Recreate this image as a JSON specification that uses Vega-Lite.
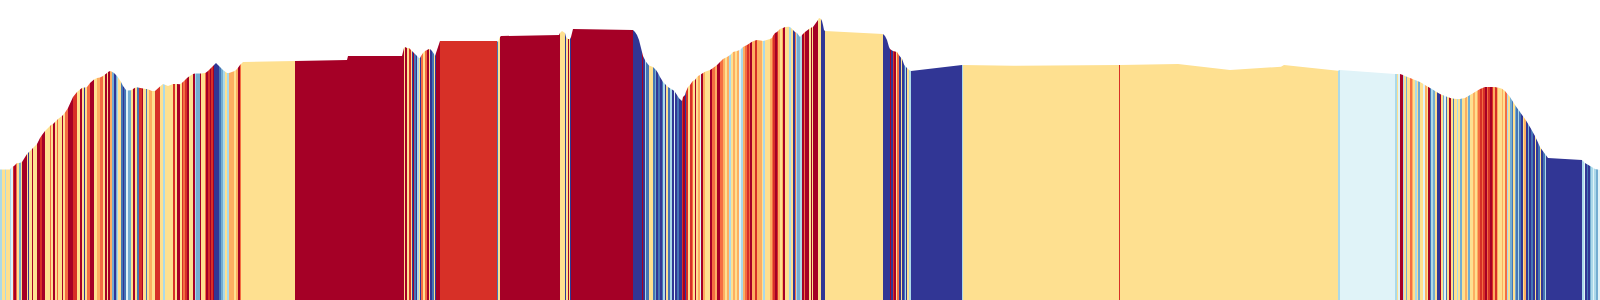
{
"$schema":"https://vega.github.io/schema/vega-lite/v6.json",
"width":1600,"height":300,
"autosize":{"type":"fit","contains":"padding"},
"padding":0,
"background":"white",
"config":{"view":{"stroke":null}},
"data":{"values":[
{"d":0,"d2":2,"e":130.5,"c":6},
{"d":2,"d2":5,"e":130.5,"c":4},
{"d":5,"d2":6,"e":130.5,"c":6},
{"d":6,"d2":10,"e":130.5,"c":4},
{"d":10,"d2":11,"e":130.5,"c":6},
{"d":11,"d2":13,"e":132,"c":5},
{"d":13,"d2":14,"e":133.5,"c":1},
{"d":14,"d2":16,"e":134,"c":0},
{"d":16,"d2":17,"e":136,"c":2},
{"d":17,"d2":19,"e":137,"c":4},
{"d":19,"d2":21,"e":137,"c":7},
{"d":21,"d2":22,"e":137.5,"c":4},
{"d":22,"d2":27,"e":138,"c":0},
{"d":27,"d2":28,"e":146,"c":4},
{"d":28,"d2":29,"e":147,"c":9},
{"d":29,"d2":32,"e":148,"c":4},
{"d":32,"d2":33,"e":151,"c":0},
{"d":33,"d2":37,"e":152,"c":4},
{"d":37,"d2":40,"e":156,"c":0},
{"d":40,"d2":42,"e":162,"c":1},
{"d":42,"d2":45,"e":165,"c":0},
{"d":45,"d2":50,"e":169,"c":4},
{"d":50,"d2":51,"e":174,"c":2},
{"d":51,"d2":53,"e":175,"c":4},
{"d":53,"d2":55,"e":176,"c":0},
{"d":55,"d2":57,"e":178,"c":4},
{"d":57,"d2":58,"e":180,"c":2},
{"d":58,"d2":62,"e":181,"c":4},
{"d":62,"d2":63,"e":184,"c":0},
{"d":63,"d2":65,"e":185,"c":4},
{"d":65,"d2":68,"e":187.5,"c":2},
{"d":68,"d2":73,"e":192,"c":0},
{"d":73,"d2":77,"e":203,"c":1},
{"d":77,"d2":80,"e":208,"c":4},
{"d":80,"d2":82,"e":210.5,"c":0},
{"d":82,"d2":84,"e":212,"c":4},
{"d":84,"d2":85,"e":212.4,"c":9},
{"d":85,"d2":87,"e":212.6,"c":4},
{"d":87,"d2":90,"e":213,"c":2},
{"d":90,"d2":94,"e":217,"c":0},
{"d":94,"d2":97,"e":220.5,"c":4},
{"d":97,"d2":100,"e":222,"c":3},
{"d":100,"d2":103,"e":222.6,"c":2},
{"d":103,"d2":105,"e":224,"c":4},
{"d":105,"d2":107,"e":225.4,"c":0},
{"d":107,"d2":108,"e":227,"c":4},
{"d":108,"d2":110,"e":228,"c":0},
{"d":110,"d2":112,"e":229,"c":3},
{"d":112,"d2":114,"e":228.3,"c":7},
{"d":114,"d2":116,"e":227,"c":9},
{"d":116,"d2":117,"e":225,"c":7},
{"d":117,"d2":118,"e":224,"c":6},
{"d":118,"d2":121,"e":222.7,"c":4},
{"d":121,"d2":123,"e":218,"c":8},
{"d":123,"d2":124,"e":214,"c":9},
{"d":124,"d2":126,"e":212.7,"c":8},
{"d":126,"d2":128,"e":210,"c":5},
{"d":128,"d2":131,"e":209.5,"c":7},
{"d":131,"d2":133,"e":209.7,"c":4},
{"d":133,"d2":135,"e":211,"c":0},
{"d":135,"d2":137,"e":212.3,"c":4},
{"d":137,"d2":139,"e":212.8,"c":8},
{"d":139,"d2":142,"e":212.2,"c":1},
{"d":142,"d2":143,"e":211.7,"c":0},
{"d":143,"d2":146,"e":211.6,"c":4},
{"d":146,"d2":147,"e":211.1,"c":8},
{"d":147,"d2":149,"e":211,"c":4},
{"d":149,"d2":152,"e":210.2,"c":3},
{"d":152,"d2":155,"e":209,"c":4},
{"d":155,"d2":160,"e":209,"c":1},
{"d":160,"d2":163,"e":213.6,"c":4},
{"d":163,"d2":165,"e":216,"c":6},
{"d":165,"d2":168,"e":215.2,"c":4},
{"d":168,"d2":173,"e":214,"c":4},
{"d":173,"d2":175,"e":216,"c":1},
{"d":175,"d2":177,"e":216,"c":4},
{"d":177,"d2":180,"e":216,"c":0},
{"d":180,"d2":182,"e":215.7,"c":4},
{"d":182,"d2":183,"e":217.2,"c":1},
{"d":183,"d2":185,"e":218,"c":2},
{"d":185,"d2":187,"e":220,"c":1},
{"d":187,"d2":189,"e":222,"c":0},
{"d":189,"d2":193,"e":223.6,"c":4},
{"d":193,"d2":195,"e":226,"c":0},
{"d":195,"d2":196,"e":226.4,"c":6},
{"d":196,"d2":200,"e":226.6,"c":7},
{"d":200,"d2":201,"e":226.6,"c":0},
{"d":201,"d2":205,"e":226.4,"c":4},
{"d":205,"d2":206,"e":227,"c":2},
{"d":206,"d2":208,"e":227.5,"c":0},
{"d":208,"d2":210,"e":229,"c":1},
{"d":210,"d2":211,"e":231,"c":0},
{"d":211,"d2":213,"e":232,"c":1},
{"d":213,"d2":214,"e":234,"c":0},
{"d":214,"d2":216,"e":235,"c":9},
{"d":216,"d2":219,"e":237,"c":9},
{"d":219,"d2":221,"e":234,"c":8},
{"d":221,"d2":223,"e":232,"c":7},
{"d":223,"d2":225,"e":230,"c":6},
{"d":225,"d2":227,"e":228.5,"c":4},
{"d":227,"d2":229,"e":227,"c":6},
{"d":229,"d2":234,"e":227,"c":3},
{"d":234,"d2":236,"e":228.7,"c":4},
{"d":236,"d2":238,"e":230,"c":3},
{"d":238,"d2":240,"e":232.3,"c":0},
{"d":240,"d2":241,"e":235,"c":2},
{"d":241,"d2":243,"e":236,"c":4},
{"d":243,"d2":295,"e":238,"c":4},
{"d":295,"d2":347,"e":239,"c":0},
{"d":347,"d2":348,"e":240,"c":0},
{"d":348,"d2":402,"e":244,"c":0},
{"d":402,"d2":404,"e":244,"c":0},
{"d":404,"d2":405,"e":252,"c":4},
{"d":405,"d2":407,"e":253,"c":0},
{"d":407,"d2":409,"e":252,"c":4},
{"d":409,"d2":411,"e":252,"c":1},
{"d":411,"d2":412,"e":250,"c":4},
{"d":412,"d2":413,"e":249,"c":9},
{"d":413,"d2":414,"e":248,"c":0},
{"d":414,"d2":416,"e":247,"c":8},
{"d":416,"d2":417,"e":245,"c":9},
{"d":417,"d2":419,"e":244,"c":6},
{"d":419,"d2":420,"e":242,"c":4},
{"d":420,"d2":421,"e":242,"c":9},
{"d":421,"d2":423,"e":244,"c":2},
{"d":423,"d2":425,"e":247,"c":4},
{"d":425,"d2":427,"e":249,"c":2},
{"d":427,"d2":429,"e":250,"c":0},
{"d":429,"d2":430,"e":251,"c":4},
{"d":430,"d2":432,"e":251,"c":9},
{"d":432,"d2":434,"e":249,"c":8},
{"d":434,"d2":435,"e":246,"c":4},
{"d":435,"d2":436,"e":244,"c":9},
{"d":436,"d2":440,"e":247,"c":0},
{"d":440,"d2":497,"e":259,"c":1},
{"d":497,"d2":498,"e":259,"c":8},
{"d":498,"d2":500,"e":258,"c":4},
{"d":500,"d2":501,"e":263,"c":0},
{"d":501,"d2":559,"e":264,"c":0},
{"d":559,"d2":560,"e":265,"c":0},
{"d":560,"d2":562,"e":267,"c":4},
{"d":562,"d2":565,"e":269,"c":4},
{"d":565,"d2":566,"e":267,"c":9},
{"d":566,"d2":568,"e":263,"c":4},
{"d":568,"d2":569,"e":261,"c":0},
{"d":569,"d2":570,"e":261,"c":4},
{"d":570,"d2":571,"e":261,"c":9},
{"d":571,"d2":573,"e":263,"c":0},
{"d":573,"d2":633,"e":271,"c":0},
{"d":633,"d2":635,"e":270,"c":9},
{"d":635,"d2":637,"e":268,"c":9},
{"d":637,"d2":639,"e":265,"c":9},
{"d":639,"d2":641,"e":260,"c":9},
{"d":641,"d2":642,"e":252,"c":9},
{"d":642,"d2":643,"e":248,"c":0},
{"d":643,"d2":645,"e":244,"c":9},
{"d":645,"d2":646,"e":240,"c":6},
{"d":646,"d2":649,"e":238.3,"c":8},
{"d":649,"d2":653,"e":234.5,"c":4},
{"d":653,"d2":655,"e":233,"c":8},
{"d":655,"d2":656,"e":231,"c":7},
{"d":656,"d2":658,"e":230,"c":9},
{"d":658,"d2":660,"e":227,"c":8},
{"d":660,"d2":662,"e":223,"c":9},
{"d":662,"d2":663,"e":219.7,"c":8},
{"d":663,"d2":665,"e":218,"c":6},
{"d":665,"d2":666,"e":216,"c":9},
{"d":666,"d2":668,"e":215,"c":4},
{"d":668,"d2":670,"e":213,"c":8},
{"d":670,"d2":672,"e":211.7,"c":6},
{"d":672,"d2":674,"e":210.5,"c":9},
{"d":674,"d2":675,"e":209.3,"c":5},
{"d":675,"d2":677,"e":208,"c":9},
{"d":677,"d2":679,"e":205,"c":8},
{"d":679,"d2":682,"e":201.7,"c":9},
{"d":682,"d2":683,"e":199,"c":1},
{"d":683,"d2":685,"e":203,"c":0},
{"d":685,"d2":686,"e":205,"c":9},
{"d":686,"d2":688,"e":208.5,"c":1},
{"d":688,"d2":690,"e":213,"c":4},
{"d":690,"d2":692,"e":215,"c":1},
{"d":692,"d2":693,"e":218,"c":2},
{"d":693,"d2":695,"e":219.3,"c":4},
{"d":695,"d2":696,"e":220,"c":0},
{"d":696,"d2":698,"e":221.5,"c":4},
{"d":698,"d2":700,"e":224,"c":3},
{"d":700,"d2":701,"e":225,"c":5},
{"d":701,"d2":703,"e":225.7,"c":0},
{"d":703,"d2":705,"e":227,"c":3},
{"d":705,"d2":710,"e":228.3,"c":4},
{"d":710,"d2":712,"e":230,"c":0},
{"d":712,"d2":715,"e":231.3,"c":2},
{"d":715,"d2":717,"e":233.5,"c":3},
{"d":717,"d2":720,"e":235,"c":0},
{"d":720,"d2":723,"e":238,"c":2},
{"d":723,"d2":725,"e":241,"c":3},
{"d":725,"d2":727,"e":242,"c":4},
{"d":727,"d2":729,"e":243,"c":3},
{"d":729,"d2":731,"e":244.3,"c":6},
{"d":731,"d2":733,"e":245.7,"c":4},
{"d":733,"d2":735,"e":248,"c":3},
{"d":735,"d2":737,"e":248.5,"c":4},
{"d":737,"d2":739,"e":249,"c":3},
{"d":739,"d2":741,"e":249.7,"c":5},
{"d":741,"d2":743,"e":251,"c":6},
{"d":743,"d2":745,"e":253,"c":3},
{"d":745,"d2":747,"e":254,"c":2},
{"d":747,"d2":749,"e":255,"c":1},
{"d":749,"d2":750,"e":256.3,"c":2},
{"d":750,"d2":752,"e":257,"c":0},
{"d":752,"d2":755,"e":258.3,"c":3},
{"d":755,"d2":757,"e":259.5,"c":1},
{"d":757,"d2":762,"e":260,"c":3},
{"d":762,"d2":763,"e":259.3,"c":4},
{"d":763,"d2":765,"e":259,"c":6},
{"d":765,"d2":770,"e":259.5,"c":4},
{"d":770,"d2":772,"e":261,"c":3},
{"d":772,"d2":773,"e":262,"c":2},
{"d":773,"d2":775,"e":264.3,"c":1},
{"d":775,"d2":777,"e":267,"c":0},
{"d":777,"d2":778,"e":268,"c":1},
{"d":778,"d2":780,"e":269,"c":3},
{"d":780,"d2":782,"e":271,"c":4},
{"d":782,"d2":783,"e":271.7,"c":3},
{"d":783,"d2":785,"e":272,"c":0},
{"d":785,"d2":789,"e":273,"c":4},
{"d":789,"d2":791,"e":273.3,"c":6},
{"d":791,"d2":793,"e":272.3,"c":4},
{"d":793,"d2":795,"e":270,"c":9},
{"d":795,"d2":796,"e":268,"c":2},
{"d":796,"d2":797,"e":267.5,"c":6},
{"d":797,"d2":800,"e":267,"c":7},
{"d":800,"d2":802,"e":263,"c":6},
{"d":802,"d2":804,"e":265,"c":0},
{"d":804,"d2":805,"e":267,"c":2},
{"d":805,"d2":809,"e":268,"c":0},
{"d":809,"d2":811,"e":271,"c":4},
{"d":811,"d2":812,"e":272.3,"c":0},
{"d":812,"d2":813,"e":272.7,"c":4},
{"d":813,"d2":818,"e":273,"c":0},
{"d":818,"d2":819,"e":280,"c":4},
{"d":819,"d2":821,"e":282,"c":4},
{"d":821,"d2":822,"e":281,"c":9},
{"d":822,"d2":823,"e":279,"c":9},
{"d":823,"d2":824,"e":275,"c":9},
{"d":824,"d2":825,"e":270,"c":9},
{"d":825,"d2":883,"e":269,"c":4},
{"d":883,"d2":885,"e":266,"c":9},
{"d":885,"d2":887,"e":264,"c":9},
{"d":887,"d2":889,"e":260,"c":9},
{"d":889,"d2":890,"e":253,"c":9},
{"d":890,"d2":891,"e":251,"c":0},
{"d":891,"d2":893,"e":250.3,"c":9},
{"d":893,"d2":894,"e":249,"c":1},
{"d":894,"d2":896,"e":248.8,"c":0},
{"d":896,"d2":897,"e":248.3,"c":4},
{"d":897,"d2":899,"e":248,"c":2},
{"d":899,"d2":901,"e":244.7,"c":9},
{"d":901,"d2":902,"e":242.3,"c":4},
{"d":902,"d2":904,"e":241.3,"c":9},
{"d":904,"d2":905,"e":235.5,"c":8},
{"d":905,"d2":906,"e":234,"c":6},
{"d":906,"d2":907,"e":233,"c":9},
{"d":907,"d2":909,"e":232,"c":4},
{"d":909,"d2":911,"e":230,"c":6},
{"d":911,"d2":962,"e":229,"c":9},
{"d":962,"d2":963,"e":235,"c":6},
{"d":963,"d2":1013,"e":235,"c":4},
{"d":1013,"d2":1119,"e":234.3,"c":4},
{"d":1119,"d2":1120,"e":235,"c":1},
{"d":1120,"d2":1178,"e":235,"c":4},
{"d":1178,"d2":1230,"e":236,"c":4},
{"d":1230,"d2":1281,"e":230,"c":4},
{"d":1281,"d2":1284,"e":233.3,"c":4},
{"d":1284,"d2":1338,"e":235,"c":4},
{"d":1338,"d2":1340,"e":229.3,"c":6},
{"d":1340,"d2":1395,"e":230,"c":5},
{"d":1395,"d2":1397,"e":226,"c":6},
{"d":1397,"d2":1398,"e":226,"c":4},
{"d":1398,"d2":1400,"e":226,"c":5},
{"d":1400,"d2":1403,"e":226,"c":0},
{"d":1403,"d2":1404,"e":225,"c":6},
{"d":1404,"d2":1406,"e":224.6,"c":4},
{"d":1406,"d2":1407,"e":223.6,"c":7},
{"d":1407,"d2":1410,"e":223.2,"c":4},
{"d":1410,"d2":1412,"e":222,"c":2},
{"d":1412,"d2":1413,"e":221.2,"c":3},
{"d":1413,"d2":1415,"e":220.8,"c":4},
{"d":1415,"d2":1417,"e":220,"c":6},
{"d":1417,"d2":1418,"e":219.2,"c":4},
{"d":1418,"d2":1420,"e":218.8,"c":7},
{"d":1420,"d2":1423,"e":218,"c":4},
{"d":1423,"d2":1425,"e":216.2,"c":5},
{"d":1425,"d2":1427,"e":215,"c":3},
{"d":1427,"d2":1428,"e":213.8,"c":4},
{"d":1428,"d2":1430,"e":213.2,"c":0},
{"d":1430,"d2":1431,"e":212,"c":8},
{"d":1431,"d2":1433,"e":211.4,"c":6},
{"d":1433,"d2":1435,"e":210.2,"c":7},
{"d":1435,"d2":1437,"e":209,"c":4},
{"d":1437,"d2":1440,"e":207.8,"c":9},
{"d":1440,"d2":1441,"e":206,"c":0},
{"d":1441,"d2":1443,"e":205.6,"c":4},
{"d":1443,"d2":1444,"e":204.8,"c":7},
{"d":1444,"d2":1446,"e":204.4,"c":5},
{"d":1446,"d2":1447,"e":203.6,"c":8},
{"d":1447,"d2":1449,"e":203.2,"c":4},
{"d":1449,"d2":1451,"e":202.4,"c":0},
{"d":1451,"d2":1453,"e":201.8,"c":4},
{"d":1453,"d2":1454,"e":201.4,"c":8},
{"d":1454,"d2":1457,"e":201.2,"c":4},
{"d":1457,"d2":1458,"e":201,"c":6},
{"d":1458,"d2":1460,"e":201,"c":4},
{"d":1460,"d2":1462,"e":201,"c":7},
{"d":1462,"d2":1465,"e":201.6,"c":4},
{"d":1465,"d2":1467,"e":202,"c":3},
{"d":1467,"d2":1468,"e":203.2,"c":4},
{"d":1468,"d2":1470,"e":203.8,"c":7},
{"d":1470,"d2":1473,"e":205,"c":4},
{"d":1473,"d2":1475,"e":206.8,"c":3},
{"d":1475,"d2":1477,"e":208,"c":4},
{"d":1477,"d2":1478,"e":209.2,"c":3},
{"d":1478,"d2":1480,"e":209.8,"c":2},
{"d":1480,"d2":1482,"e":211,"c":1},
{"d":1482,"d2":1483,"e":211.8,"c":2},
{"d":1483,"d2":1485,"e":212.2,"c":1},
{"d":1485,"d2":1487,"e":213,"c":0},
{"d":1487,"d2":1488,"e":213,"c":2},
{"d":1488,"d2":1490,"e":213,"c":1},
{"d":1490,"d2":1492,"e":213,"c":0},
{"d":1492,"d2":1493,"e":213,"c":1},
{"d":1493,"d2":1495,"e":213,"c":3},
{"d":1495,"d2":1497,"e":213,"c":1},
{"d":1497,"d2":1498,"e":212.6,"c":3},
{"d":1498,"d2":1502,"e":212.4,"c":4},
{"d":1502,"d2":1503,"e":211.2,"c":3},
{"d":1503,"d2":1505,"e":210.6,"c":4},
{"d":1505,"d2":1507,"e":209,"c":2},
{"d":1507,"d2":1508,"e":206.6,"c":6},
{"d":1508,"d2":1510,"e":205.4,"c":4},
{"d":1510,"d2":1512,"e":203,"c":7},
{"d":1512,"d2":1513,"e":199.8,"c":8},
{"d":1513,"d2":1515,"e":198.2,"c":4},
{"d":1515,"d2":1516,"e":195,"c":7},
{"d":1516,"d2":1518,"e":193.6,"c":8},
{"d":1518,"d2":1519,"e":190.8,"c":6},
{"d":1519,"d2":1521,"e":189.4,"c":8},
{"d":1521,"d2":1523,"e":186.6,"c":9},
{"d":1523,"d2":1524,"e":183.8,"c":4},
{"d":1524,"d2":1526,"e":182.4,"c":3},
{"d":1526,"d2":1528,"e":179.4,"c":9},
{"d":1528,"d2":1529,"e":176.2,"c":7},
{"d":1529,"d2":1531,"e":174.6,"c":9},
{"d":1531,"d2":1533,"e":171.2,"c":8},
{"d":1533,"d2":1535,"e":167.6,"c":9},
{"d":1535,"d2":1536,"e":164,"c":4},
{"d":1536,"d2":1538,"e":161.8,"c":9},
{"d":1538,"d2":1540,"e":157.4,"c":8},
{"d":1540,"d2":1541,"e":153,"c":4},
{"d":1541,"d2":1543,"e":151.6,"c":9},
{"d":1543,"d2":1545,"e":148.8,"c":8},
{"d":1545,"d2":1546,"e":146,"c":6},
{"d":1546,"d2":1548,"e":144.7,"c":9},
{"d":1548,"d2":1582,"e":142,"c":9},
{"d":1582,"d2":1584,"e":140,"c":6},
{"d":1584,"d2":1585,"e":138,"c":5},
{"d":1585,"d2":1587,"e":137,"c":9},
{"d":1587,"d2":1588,"e":135.8,"c":8},
{"d":1588,"d2":1590,"e":135.2,"c":9},
{"d":1590,"d2":1591,"e":134,"c":7},
{"d":1591,"d2":1593,"e":133.4,"c":6},
{"d":1593,"d2":1594,"e":132.2,"c":5},
{"d":1594,"d2":1596,"e":131.6,"c":6},
{"d":1596,"d2":1598,"e":130.8,"c":7},
{"d":1598,"d2":1600,"e":130.4,"c":5},
{"d":1600,"d2":1600,"e":130,"c":5}
]},
"layer":[
{"mark":{"type":"rect"},
 "encoding":{
  "x":{"field":"d","type":"quantitative","scale":{"domain":[0,1600],"nice":false,"zero":false},"axis":null},
  "x2":{"field":"d2"},
  "y":{"datum":0,"type":"quantitative","scale":{"domain":[0,300],"nice":false},"axis":null},
  "y2":{"datum":300},
  "color":{"field":"c","type":"ordinal","scale":{"domain":[0,1,2,3,4,5,6,7,8,9],"range":["#a50026","#d73027","#f46d43","#fdae61","#fee090","#e0f3f8","#abd9e9","#74add1","#4575b4","#313695"]},"legend":null}
 }},
{"mark":{"type":"area","color":"white","interpolate":"linear"},
 "encoding":{
  "x":{"field":"d","type":"quantitative"},
  "y":{"field":"e","type":"quantitative"},
  "y2":{"datum":300}
 }}
]
}
